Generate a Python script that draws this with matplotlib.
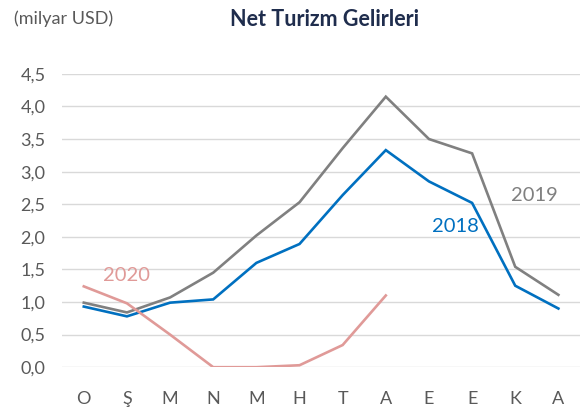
"""Net Turizm Gelirleri - line chart recreation."""

import matplotlib
matplotlib.use("Agg")
import matplotlib.pyplot as plt

months = ["O", "Ş", "M", "N", "M", "H", "T", "A", "E", "E", "K", "A"]
ticks_y = [0.0, 0.5, 1.0, 1.5, 2.0, 2.5, 3.0, 3.5, 4.0, 4.5]

y2019 = [0.99, 0.84, 1.07, 1.45, 2.02, 2.53, 3.36, 4.15, 3.50, 3.28, 1.54, 1.11]
y2018 = [0.93, 0.78, 0.99, 1.04, 1.60, 1.89, 2.64, 3.33, 2.85, 2.52, 1.25, 0.90]
y2020 = [1.24, 0.98, 0.50, 0.00, 0.00, 0.03, 0.34, 1.10]

GRAY = "#808080"
BLUE = "#0070C0"
PINK = "#E09A98"
TEXT = "#595959"

plt.rcParams["font.family"] = ["Lato", "DejaVu Sans"]

fig = plt.figure(figsize=(5.87, 4.08), dpi=100)
ax = fig.add_axes([0.106, 0.100, 0.882, 0.719])

x = list(range(len(months)))
line_opts = {"linewidth": 1.9, "solid_joinstyle": "miter"}
ax.plot(x, y2019, color=GRAY, **line_opts)
ax.plot(x, y2018, color=BLUE, **line_opts)
ax.plot(x[:len(y2020)], y2020, color=PINK, **line_opts)

ax.set_xlim(-0.5, len(months) - 0.5)
ax.set_ylim(0, 4.5)
ax.set_xticks(x)
ax.set_xticklabels(months)
ax.set_yticks(ticks_y)
ax.set_yticklabels([("%.1f" % v).replace(".", ",") for v in ticks_y])
ax.tick_params(length=0, labelsize=13, colors=TEXT, pad=12)
ax.tick_params(axis="x", pad=17)

ax.grid(axis="y", color="#D9D9D9", linewidth=1.0)
ax.set_axisbelow(True)
for side in ax.spines.values():
    side.set_visible(False)

ax.text(9.9, 2.64, "2019", color=GRAY, fontsize=14.5, va="center")
ax.text(8.08, 2.16, "2018", color=BLUE, fontsize=14.5, va="center")
ax.text(0.45, 1.41, "2020", color=PINK, fontsize=14.5, va="center")

fig.text(0.552, 0.951, "Net Turizm Gelirleri", ha="center", va="center",
         fontsize=15.5, weight="bold", color="#1F2D4D")
fig.text(0.024, 0.955, "(milyar USD)", ha="left", va="center",
         fontsize=13, color=TEXT)

fig.savefig("out.png", dpi=100)
